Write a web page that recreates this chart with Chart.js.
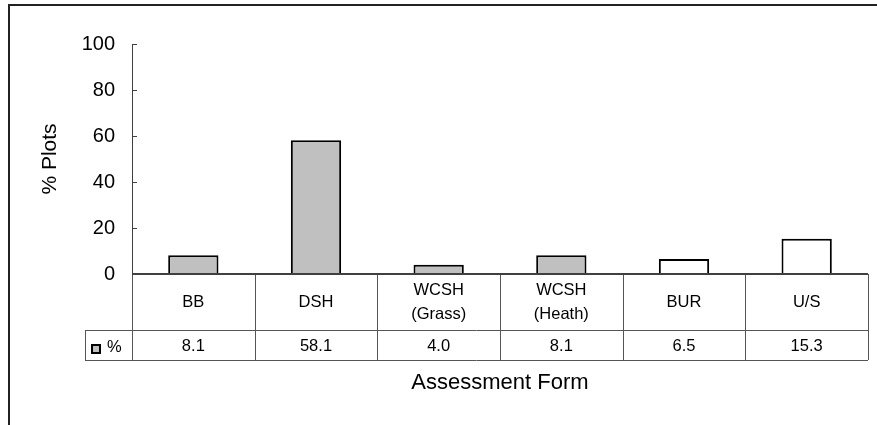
<!DOCTYPE html>
<html>
<head>
<meta charset="utf-8">
<script src="https://cdn.jsdelivr.net/npm/chart.js@4/dist/chart.umd.min.js"></script>
<style>
  html, body { margin: 0; padding: 0; background: #fff; }
  canvas { display: block; }
</style>
</head>
<body>
<canvas id="formChart" width="877" height="425"></canvas>
<script>
// Données
const categories = ['BB', 'DSH', 'WCSH (Grass)', 'WCSH (Heath)', 'BUR', 'U/S'];
const headerLines = [['BB'], ['DSH'], ['WCSH', '(Grass)'], ['WCSH', '(Heath)'], ['BUR'], ['U/S']];
const percentValues = [8.1, 58.1, 4.0, 8.1, 6.5, 15.3];
const tableLabels = ['8.1', '58.1', '4.0', '8.1', '6.5', '15.3'];
const barFills = ['#C0C0C0', '#C0C0C0', '#C0C0C0', '#C0C0C0', '#FFFFFF', '#FFFFFF'];
const yTicks = [0, 20, 40, 60, 80, 100];

const FONT = 'Arial, "Liberation Sans", sans-serif';
const AXIS_COL = '#404040';
const GRID_COL = '#555555';

// cadre + tableau de données + titre de l'axe X
const tablePlugin = {
    id: 'dataTable',
    beforeDraw(chart) {
        const ctx = chart.ctx;
        ctx.save();
        ctx.strokeStyle = '#222';
        ctx.lineWidth = 2;
        ctx.beginPath();
        ctx.moveTo(9, 425); ctx.lineTo(9, 5); ctx.lineTo(877, 5);
        ctx.stroke();
        ctx.restore();
    },
    afterDraw(chart) {
        const ctx = chart.ctx;
        const xs = chart.scales.x;
        const ys = chart.scales.y;
        const area = chart.chartArea;
        const colW = (area.right - area.left) / categories.length;
        const y0 = ys.getPixelForValue(0);
        const rowMid = y0 + 56;
        const rowEnd = rowMid + 30;
        const legLeft = 85;

        ctx.save();
        // petites graduations vers l'intérieur
        ctx.strokeStyle = AXIS_COL;
        ctx.lineWidth = 1;
        yTicks.forEach(v => {
            const y = Math.round(ys.getPixelForValue(v)) + 0.5;
            ctx.beginPath(); ctx.moveTo(area.left, y); ctx.lineTo(area.left + 5, y); ctx.stroke();
        });

        // grille du tableau
        ctx.strokeStyle = GRID_COL;
        ctx.beginPath();
        ctx.moveTo(legLeft, rowMid + 0.5); ctx.lineTo(area.right, rowMid + 0.5);
        ctx.moveTo(legLeft, rowEnd + 0.5); ctx.lineTo(area.right, rowEnd + 0.5);
        ctx.moveTo(legLeft + 0.5, rowMid); ctx.lineTo(legLeft + 0.5, rowEnd);
        for (let i = 0; i <= categories.length; i++) {
            const x = Math.round(xs.getPixelForValue(Math.min(i, categories.length - 1)) + (i < categories.length ? -colW / 2 : colW / 2)) + 0.5;
            ctx.moveTo(x, y0); ctx.lineTo(x, rowEnd);
        }
        ctx.stroke();

        // ligne du zéro
        ctx.strokeStyle = AXIS_COL;
        ctx.lineWidth = 2;
        ctx.beginPath(); ctx.moveTo(area.left, y0); ctx.lineTo(area.right, y0); ctx.stroke();

        // textes
        ctx.fillStyle = '#000';
        ctx.textAlign = 'center';
        ctx.textBaseline = 'middle';
        ctx.font = '16.5px ' + FONT;
        headerLines.forEach((lines, i) => {
            const cx = xs.getPixelForValue(i);
            const mid = (y0 + rowMid) / 2;
            lines.forEach((t, k) => {
                const ty = mid + (k - (lines.length - 1) / 2) * 24;
                ctx.fillText(t, cx, ty);
            });
            ctx.fillText(tableLabels[i], cx, (rowMid + rowEnd) / 2 + 1);
        });

        // légende
        ctx.fillStyle = '#C0C0C0';
        ctx.fillRect(92, 345, 8, 8);
        ctx.strokeStyle = '#000';
        ctx.lineWidth = 2;
        ctx.strokeRect(92, 345, 8, 8);
        ctx.fillStyle = '#000';
        ctx.textAlign = 'left';
        ctx.fillText('%', 107, (rowMid + rowEnd) / 2 + 2);

        // titre axe X
        ctx.textAlign = 'center';
        ctx.font = '22px ' + FONT;
        ctx.fillText('Assessment Form', (area.left + area.right) / 2, 383);
        ctx.restore();
    }
};

new Chart(document.getElementById('formChart'), {
    type: 'bar',
    data: {
        labels: categories,
        datasets: [{
            label: '%',
            data: percentValues,
            backgroundColor: barFills,
            borderColor: '#000',
            borderWidth: 2,
            categoryPercentage: 1,
            barPercentage: 0.41
        }]
    },
    options: {
        responsive: false,
        animation: false,
        layout: { padding: { top: 44, bottom: 151, left: 0, right: 9 } },
        plugins: { legend: { display: false }, tooltip: { enabled: false } },
        scales: {
            x: { display: false, offset: true },
            y: {
                min: 0, max: 100,
                afterFit(scale) { scale.width = 132; },
                grid: { drawOnChartArea: false, drawTicks: false },
                border: { display: true, color: AXIS_COL, width: 1 },
                ticks: {
                    stepSize: 20, padding: 17, color: '#000',
                    font: { family: FONT, size: 20 }
                },
                title: {
                    display: true, text: '% Plots', color: '#000',
                    font: { family: FONT, size: 21 },
                    padding: { top: 38, bottom: 0 }
                }
            }
        }
    },
    plugins: [tablePlugin]
});
</script>
</body>
</html>
